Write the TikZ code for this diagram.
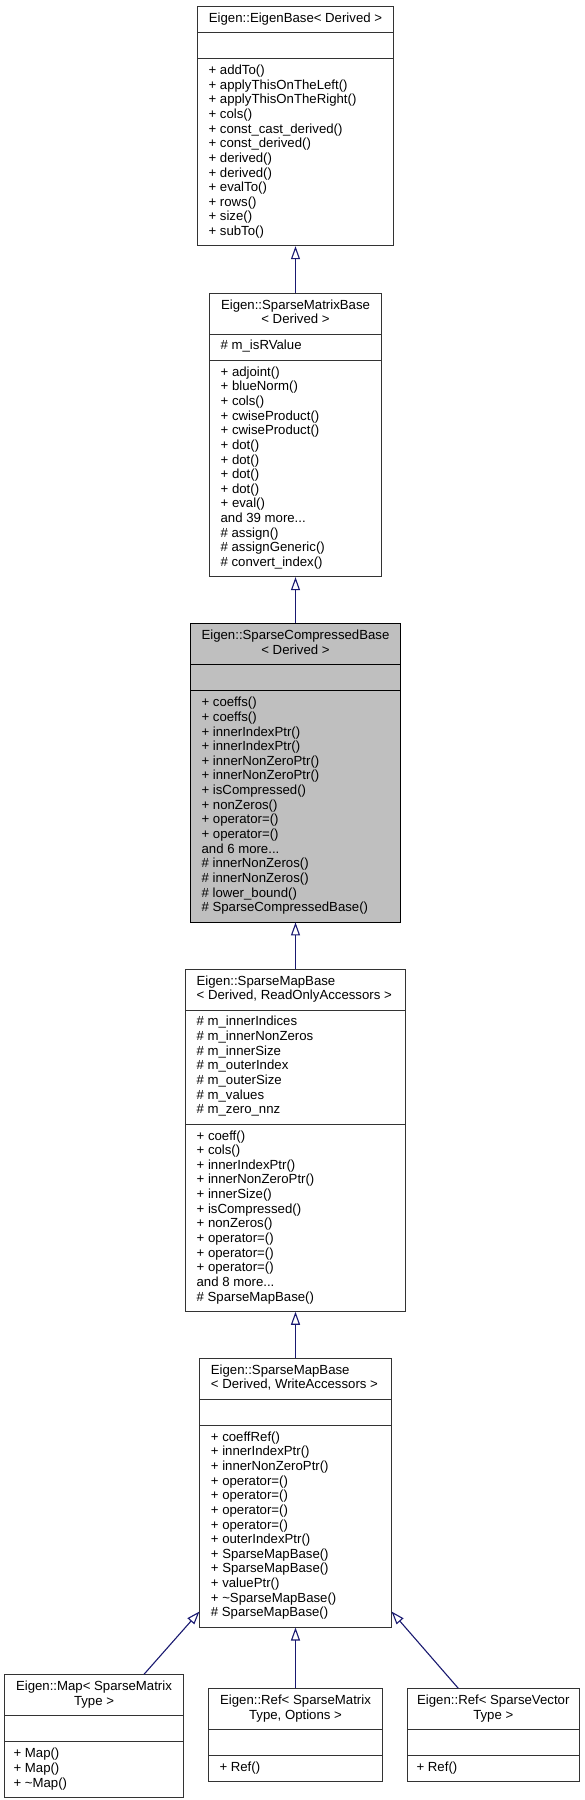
\documentclass[tikz,border=0pt]{standalone}
\usepackage{fontspec}
\setmainfont{Liberation Sans}
\usetikzlibrary{shapes.multipart,arrows.meta,calc}

\definecolor{midnight}{RGB}{25,25,112}
\definecolor{grey75}{RGB}{191,191,191}

\newcommand{\header}[1]{\begin{tabular}{@{}c@{}}#1\end{tabular}}
\newcommand{\lheader}[1]{\begin{tabular}{@{}l@{}}#1\end{tabular}}
\newcommand{\members}[1]{\begin{tabular}{@{}l@{}}#1\end{tabular}}

\tikzset{
	classbox/.style={rectangle split, rectangle split parts=3, draw=black!80, line width=0.9pt,
		fill=white, inner xsep=11pt, inner ysep=5.3pt, anchor=north,
		rectangle split part align={center,left,left}, font=\fontsize{13.2}{14.65}\selectfont},
	leftbox/.style={classbox, rectangle split part align={left,left,left}},
	focusbox/.style={classbox, draw=black, fill=grey75},
	inherit/.style={draw=midnight, line width=1.1pt, -{Triangle[open, length=13pt, width=9pt]}}
}

\begin{document}
\begin{tikzpicture}[x=1pt,y=-1pt]
	
	\useasboundingbox (0,0) rectangle (585,1800);
	
	% base classes
	\node[classbox, minimum width=195.8pt] (eigenbase) at (295.5,5.7)
	{\header{Eigen::EigenBase< Derived >}
	\nodepart{two}\strut
	\nodepart{three}\members{+ addTo()\\+ applyThisOnTheLeft()\\+ applyThisOnTheRight()\\+ cols()\\+ const\_cast\_derived()\\+ const\_derived()\\+ derived()\\+ derived()\\+ evalTo()\\+ rows()\\+ size()\\+ subTo()}};
	
	\node[classbox, minimum width=171.7pt] (matrixbase) at (295.5,292.7)
	{\header{Eigen::SparseMatrixBase\\< Derived >}
	\nodepart{two}\members{\# m\_isRValue}
	\nodepart{three}\members{+ adjoint()\\+ blueNorm()\\+ cols()\\+ cwiseProduct()\\+ cwiseProduct()\\+ dot()\\+ dot()\\+ dot()\\+ dot()\\+ eval()\\and 39 more...\\\# assign()\\\# assignGeneric()\\\# convert\_index()}};
	
	\node[focusbox, minimum width=209.2pt] (compressed) at (295.5,623.3)
	{\header{Eigen::SparseCompressedBase\\< Derived >}
	\nodepart{two}\strut
	\nodepart{three}\members{+ coeffs()\\+ coeffs()\\+ innerIndexPtr()\\+ innerIndexPtr()\\+ innerNonZeroPtr()\\+ innerNonZeroPtr()\\+ isCompressed()\\+ nonZeros()\\+ operator=()\\+ operator=()\\and 6 more...\\\# innerNonZeros()\\\# innerNonZeros()\\\# lower\_bound()\\\# SparseCompressedBase()}};
	
	% map bases
	\node[leftbox, minimum width=219.7pt] (readmap) at (295.5,968.7)
	{\lheader{Eigen::SparseMapBase\\< Derived, ReadOnlyAccessors >}
	\nodepart{two}\members{\# m\_innerIndices\\\# m\_innerNonZeros\\\# m\_innerSize\\\# m\_outerIndex\\\# m\_outerSize\\\# m\_values\\\# m\_zero\_nnz}
	\nodepart{three}\members{+ coeff()\\+ cols()\\+ innerIndexPtr()\\+ innerNonZeroPtr()\\+ innerSize()\\+ isCompressed()\\+ nonZeros()\\+ operator=()\\+ operator=()\\+ operator=()\\and 8 more...\\\# SparseMapBase()}};
	
	\node[leftbox, minimum width=191.2pt] (writemap) at (295.5,1357.7)
	{\lheader{Eigen::SparseMapBase\\< Derived, WriteAccessors >}
	\nodepart{two}\strut
	\nodepart{three}\members{+ coeffRef()\\+ innerIndexPtr()\\+ innerNonZeroPtr()\\+ operator=()\\+ operator=()\\+ operator=()\\+ operator=()\\+ outerIndexPtr()\\+ SparseMapBase()\\+ SparseMapBase()\\+ valuePtr()\\+ \textasciitilde SparseMapBase()\\\# SparseMapBase()}};
	
	% derived classes
	\node[classbox, minimum width=178.9pt, inner xsep=9pt] (map) at (94,1674.3)
	{\header{Eigen::Map< SparseMatrix\\Type >}
	\nodepart{two}\strut
	\nodepart{three}\members{+ Map()\\+ Map()\\+ \textasciitilde Map()}};
	
	\node[classbox, minimum width=174pt] (refmatrix) at (295.5,1688.3)
	{\header{Eigen::Ref< SparseMatrix\\Type, Options >}
	\nodepart{two}\strut
	\nodepart{three}\members{+ Ref()}};
	
	\node[classbox, minimum width=171.4pt, inner xsep=9pt] (refvector) at (493.3,1688.3)
	{\header{Eigen::Ref< SparseVector\\Type >}
	\nodepart{two}\strut
	\nodepart{three}\members{+ Ref()}};
	
	\draw[inherit] (matrixbase.north) -- (eigenbase.south);
	\draw[inherit] (compressed.north) -- (matrixbase.south);
	\draw[inherit] (readmap.north) -- (compressed.south);
	\draw[inherit] (writemap.north) -- (readmap.south);
	
	\draw[inherit] ([xshift=50pt]map.north) -- ([yshift=16pt]writemap.south west);
	\draw[inherit] (refmatrix.north) -- (writemap.south);
	\draw[inherit] ([xshift=-35pt]refvector.north) -- ([yshift=16pt]writemap.south east);
	
\end{tikzpicture}
\end{document}
